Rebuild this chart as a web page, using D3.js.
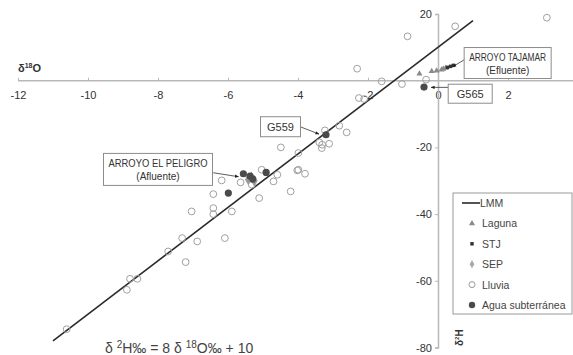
<!DOCTYPE html>
<html>
<head>
<meta charset="utf-8">
<script src="https://unpkg.com/d3@7.8.5/dist/d3.min.js"></script>
<style>
  body { margin: 0; background: #fff; }
  svg { display: block; font-family: "Liberation Sans", Arial, sans-serif; }
</style>
</head>
<body>
<div id="chart"></div>
<script>
// tick values
let xTicks = [-12, -10, -8, -6, -4, -2, 0, 2];
let yTicks = [-80, -60, -40, -20, 20];

// meteoric water line: d2H = 8 d18O + 10
let lmmX = [-11, 1];

// series [d18O, d2H]
let laguna = [[-0.53, 2.1], [-0.18, 2.8], [-0.04, 3.0], [0.1, 3.3], [0.15, 3.5], [0.22, 3.8]];
let stj = [[0.27, 4.0], [0.36, 4.3], [0.44, 4.6]];
let sep = [[-5.33, -29.0], [-5.25, -30.0], [-5.42, -29.6]];
let lluvia = [
    [3.11, 18.9], [0.49, 16.3], [-0.87, 13.3], [-2.31, 3.6], [-1.61, -0.2], [-1.03, -1.0], [-0.34, 0.3],
    [-2.26, -5.2], [-2.11, -5.5], [-2.82, -13.5], [-2.61, -15.5], [-3.23, -14.9], [-3.39, -18.5],
    [-3.31, -19.2], [-3.11, -18.9], [-3.32, -20.2], [-3.99, -21.7], [-4.49, -20.0], [-3.99, -26.7],
    [-3.8, -27.9], [-4.02, -26.9], [-4.21, -33.2], [-4.59, -28.2], [-4.7, -30.2], [-5.04, -26.7],
    [-5.11, -35.2], [-5.32, -31.2], [-5.64, -30.5], [-6.18, -29.9], [-6.42, -34.0], [-7.04, -39.2],
    [-6.42, -38.2], [-6.42, -40.0], [-5.89, -39.2], [-6.09, -47.2], [-7.31, -47.2], [-6.88, -48.2],
    [-7.71, -51.2], [-7.21, -54.4], [-8.8, -59.4], [-8.59, -59.4], [-8.89, -62.7], [-10.61, -74.5]
];
let agua = [[-5.56, -27.9], [-5.37, -28.6], [-5.29, -29.5], [-4.91, -27.5], [-5.99, -33.7], [-3.2, -16.2], [-0.4, -1.9]];

let legendNames = ["LMM", "Laguna", "STJ", "SEP", "Lluvia", "Agua subterránea"];

// annotations: text lines, box centre (data), arrow target (data)
let notes = [
    { lines: ["ARROYO TAJAMAR", "(Efluente)"], at: [1.99, 5.3], w: 87, h: 31, from: [0.77, 6.4], to: [0.42, 4.2] },
    { lines: ["G565"], at: [0.92, -3.9], w: 44, h: 19, from: [0.29, -2.0], to: [-0.2, -2.0] },
    { lines: ["G559"], at: [-4.5, -13.8], w: 40, h: 20, from: [-3.94, -13.8], to: [-3.4, -16.0] },
    { lines: ["ARROYO EL PELIGRO", "(Afluente)"], at: [-8.0, -26.6], w: 109, h: 32, from: [-6.42, -27.6], to: [-5.7, -28.8] }
];

let width = 573;
let height = 355;

let svg = d3.select("#chart").append("svg")
    .attr("width", width)
    .attr("height", height);

let x = d3.scaleLinear().domain([-12, 4]).range([18, 578]);
let y = d3.scaleLinear().domain([-80, 20]).range([347.5, 14]);

svg.append("defs").append("marker")
    .attr("id", "arrow")
    .attr("viewBox", "0 0 10 10")
    .attr("refX", 9).attr("refY", 5)
    .attr("markerWidth", 5).attr("markerHeight", 5)
    .attr("orient", "auto")
    .append("path")
    .attr("d", "M0,1L10,5L0,9Z")
    .attr("fill", "#222");

// axes
let xAxis = svg.append("g")
    .attr("transform", `translate(0,${y(0)})`)
    .call(d3.axisBottom(x).tickValues(xTicks).tickSize(3).tickPadding(8).tickFormat(d => String(d)));
xAxis.select(".domain").attr("d", `M${x(-12)},0H${width}`);

let yAxis = svg.append("g")
    .attr("transform", `translate(${x(0)},0)`)
    .call(d3.axisLeft(y).tickValues(yTicks).tickSize(3).tickPadding(3).tickFormat(d => String(d)));

svg.selectAll(".domain").attr("stroke", "#b8b8b8").attr("stroke-width", 1.5);
svg.selectAll(".tick line").attr("stroke", "#b8b8b8");
svg.selectAll(".tick text").attr("font-size", 11).attr("fill", "#333")
    .attr("font-family", "'Liberation Sans', Arial, sans-serif");
xAxis.selectAll(".tick line").attr("y2", -3);

// axis titles
let xt = svg.append("text").attr("x", 18).attr("y", 72)
    .attr("font-size", 11).attr("font-weight", "bold").attr("fill", "#333");
xt.append("tspan").text("δ");
xt.append("tspan").attr("font-size", 7).attr("dy", -4).text("18");
xt.append("tspan").attr("dy", 4).text("O");

let yt = svg.append("text").attr("transform", "translate(463,346) rotate(-90)")
    .attr("font-size", 10).attr("font-weight", "bold").attr("fill", "#333");
yt.append("tspan").text("δ");
yt.append("tspan").attr("font-size", 6).attr("dy", -4).text("2");
yt.append("tspan").attr("dy", 4).text("H");

// LMM line
let line = d3.line().x(d => x(d)).y(d => y(8 * d + 10));
svg.append("path")
    .attr("d", line(lmmX))
    .attr("fill", "none")
    .attr("stroke", "#2a2a2a")
    .attr("stroke-width", 1.6);

// points
svg.append("g").selectAll("circle").data(lluvia).join("circle")
    .attr("cx", d => x(d[0])).attr("cy", d => y(d[1])).attr("r", 3.4)
    .attr("fill", "none").attr("stroke", "#a0a0a0").attr("stroke-width", 1);

let tri = d3.symbol().type(d3.symbolTriangle).size(16);
svg.append("g").selectAll("path").data(laguna).join("path")
    .attr("transform", d => `translate(${x(d[0])},${y(d[1])})`)
    .attr("d", tri).attr("fill", "#8a8a8a");

let sq = d3.symbol().type(d3.symbolSquare).size(12);
svg.append("g").selectAll("path").data(stj).join("path")
    .attr("transform", d => `translate(${x(d[0])},${y(d[1])})`)
    .attr("d", sq).attr("fill", "#333");

let dia = d3.symbol().type(d3.symbolDiamond).size(40);
svg.append("g").selectAll("path").data(sep).join("path")
    .attr("transform", d => `translate(${x(d[0])},${y(d[1])})`)
    .attr("d", dia).attr("fill", "#9a9a9a");

svg.append("g").selectAll("circle").data(agua).join("circle")
    .attr("cx", d => x(d[0])).attr("cy", d => y(d[1])).attr("r", 3.6)
    .attr("fill", "#4a4a4a");

// annotations
notes.forEach(n => {
    let cx = x(n.at[0]), cy = y(n.at[1]);
    let g = svg.append("g");
    g.append("line")
        .attr("x1", x(n.from[0])).attr("y1", y(n.from[1]))
        .attr("x2", x(n.to[0])).attr("y2", y(n.to[1]))
        .attr("stroke", "#333").attr("stroke-width", 0.8)
        .attr("marker-end", "url(#arrow)");
    g.append("rect")
        .attr("x", cx - n.w / 2).attr("y", cy - n.h / 2)
        .attr("width", n.w).attr("height", n.h)
        .attr("fill", "#fff").attr("stroke", "#8c8c8c").attr("stroke-width", 1);
    n.lines.forEach((t, i) => {
        let tx = g.append("text")
            .attr("x", cx)
            .attr("y", cy + (i - (n.lines.length - 1) / 2) * 13 + 4)
            .attr("text-anchor", "middle")
            .attr("font-size", n.lines.length > 1 ? 10 : 11)
            .attr("fill", "#333")
            .text(t);
        if (i === 0 && n.lines.length > 1) {
            tx.attr("textLength", n.w - 10).attr("lengthAdjust", "spacingAndGlyphs");
        }
    });
});

// legend
let lg = svg.append("g").attr("transform", "translate(453,193)");
lg.append("rect").attr("width", 119).attr("height", 121)
    .attr("fill", "#fff").attr("stroke", "#999");
legendNames.forEach((name, i) => {
    let ly = 10 + i * 20.4;
    let item = lg.append("g").attr("transform", `translate(0,${ly})`);
    if (i === 0) {
        item.append("line").attr("x1", 9).attr("x2", 27).attr("stroke", "#2a2a2a").attr("stroke-width", 1.6);
    } else if (i === 1) {
        item.append("path").attr("transform", "translate(19,0)").attr("d", tri).attr("fill", "#8a8a8a");
    } else if (i === 2) {
        item.append("path").attr("transform", "translate(19,0)").attr("d", sq).attr("fill", "#333");
    } else if (i === 3) {
        item.append("path").attr("transform", "translate(19,0)").attr("d", d3.symbol().type(d3.symbolDiamond).size(20)).attr("fill", "#aaa");
    } else if (i === 4) {
        item.append("circle").attr("cx", 19).attr("r", 3).attr("fill", "none").attr("stroke", "#999");
    } else {
        item.append("circle").attr("cx", 19).attr("r", 3.2).attr("fill", "#4a4a4a");
    }
    item.append("text").attr("x", i === 0 ? 27 : 29).attr("y", 4)
        .attr("font-size", 10.5).attr("fill", "#444").text(name);
});

// equation
let eq = svg.append("text").attr("x", 105).attr("y", 353)
    .attr("font-size", 14).attr("fill", "#444");
eq.append("tspan").text("δ ");
eq.append("tspan").attr("font-size", 10).attr("dy", -5).text("2");
eq.append("tspan").attr("dy", 5).text("H‰ = 8 δ ");
eq.append("tspan").attr("font-size", 10).attr("dy", -5).text("18");
eq.append("tspan").attr("dy", 5).text("O‰ + 10");
</script>
</body>
</html>
